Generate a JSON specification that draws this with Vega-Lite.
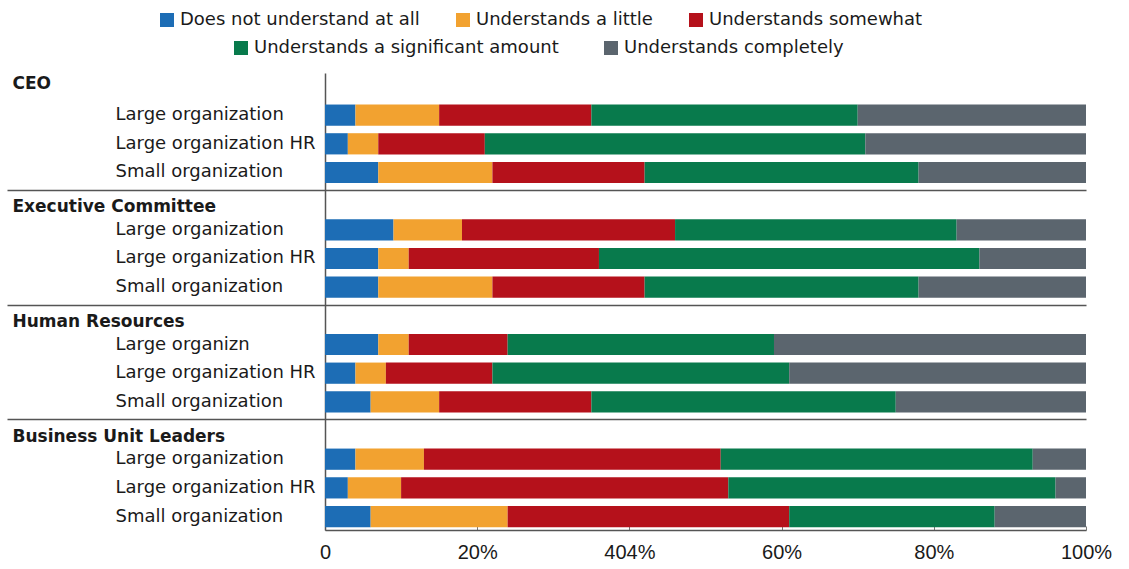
{
  "$schema": "https://vega.github.io/schema/vega-lite/v6.json",
  "autosize": {"type": "none"},
  "width": 761,
  "height": 457,
  "padding": {"left": 325, "top": 73, "right": 43, "bottom": 39},
  "background": "white",
  "config": {"font": "DejaVu Sans", "view": {"stroke": null}},
  "data": {
    "values": [
      {"row": "CEO|Large organization", "Does not understand at all": 4, "Understands a little": 11, "Understands somewhat": 20, "Understands a significant amount": 35, "Understands completely": 30},
      {"row": "CEO|Large organization HR", "Does not understand at all": 3, "Understands a little": 4, "Understands somewhat": 14, "Understands a significant amount": 50, "Understands completely": 29},
      {"row": "CEO|Small organization", "Does not understand at all": 7, "Understands a little": 15, "Understands somewhat": 20, "Understands a significant amount": 36, "Understands completely": 22},
      {"row": "Executive Committee|Large organization", "Does not understand at all": 9, "Understands a little": 9, "Understands somewhat": 28, "Understands a significant amount": 37, "Understands completely": 17},
      {"row": "Executive Committee|Large organization HR", "Does not understand at all": 7, "Understands a little": 4, "Understands somewhat": 25, "Understands a significant amount": 50, "Understands completely": 14},
      {"row": "Executive Committee|Small organization", "Does not understand at all": 7, "Understands a little": 15, "Understands somewhat": 20, "Understands a significant amount": 36, "Understands completely": 22},
      {"row": "Human Resources|Large organizn", "Does not understand at all": 7, "Understands a little": 4, "Understands somewhat": 13, "Understands a significant amount": 35, "Understands completely": 41},
      {"row": "Human Resources|Large organization HR", "Does not understand at all": 4, "Understands a little": 4, "Understands somewhat": 14, "Understands a significant amount": 39, "Understands completely": 39},
      {"row": "Human Resources|Small organization", "Does not understand at all": 6, "Understands a little": 9, "Understands somewhat": 20, "Understands a significant amount": 40, "Understands completely": 25},
      {"row": "Business Unit Leaders|Large organization", "Does not understand at all": 4, "Understands a little": 9, "Understands somewhat": 39, "Understands a significant amount": 41, "Understands completely": 7},
      {"row": "Business Unit Leaders|Large organization HR", "Does not understand at all": 3, "Understands a little": 7, "Understands somewhat": 43, "Understands a significant amount": 43, "Understands completely": 4},
      {"row": "Business Unit Leaders|Small organization", "Does not understand at all": 6, "Understands a little": 18, "Understands somewhat": 37, "Understands a significant amount": 27, "Understands completely": 12}
    ]
  },
  "transform": [
    {"fold": ["Does not understand at all", "Understands a little", "Understands somewhat", "Understands a significant amount", "Understands completely"], "as": ["level", "pct"]},
    {"stack": "pct", "groupby": ["row"], "as": ["x0", "x1"]}
  ],
  "encoding": {
    "y": {
      "field": "row",
      "type": "nominal",
      "scale": {
        "domain": [
          "CEO", "CEO|Large organization", "CEO|Large organization HR", "CEO|Small organization",
          "Executive Committee", "Executive Committee|Large organization", "Executive Committee|Large organization HR", "Executive Committee|Small organization",
          "Human Resources", "Human Resources|Large organizn", "Human Resources|Large organization HR", "Human Resources|Small organization",
          "Business Unit Leaders", "Business Unit Leaders|Large organization", "Business Unit Leaders|Large organization HR", "Business Unit Leaders|Small organization"
        ],
        "paddingInner": 0.26,
        "paddingOuter": 0.1
      },
      "axis": {
        "title": null,
        "domainColor": "#555555",
        "domainWidth": 1.5,
        "bandPosition": 0,
        "grid": true,
        "gridColor": "#555555",
        "gridWidth": 1.5,
        "gridOpacity": {"condition": {"test": "indexof(['Executive Committee','Human Resources','Business Unit Leaders'], datum.value) >= 0", "value": 1}, "value": 0},
        "ticks": true,
        "tickSize": 318,
        "tickColor": "#555555",
        "tickWidth": 1.5,
        "tickOpacity": {"condition": {"test": "indexof(['Executive Committee','Human Resources','Business Unit Leaders'], datum.value) >= 0", "value": 1}, "value": 0},
        "labelExpr": "indexof(datum.value, '|') >= 0 ? split(datum.value, '|')[1] : datum.value",
        "labelAlign": "left",
        "labelBaseline": "middle",
        "labelPadding": {"condition": {"test": "indexof(datum.value, '|') < 0", "value": -5}, "value": -108},
        "labelOffset": {"condition": [{"test": "datum.value === 'CEO'", "value": -2}, {"test": "indexof(datum.value, '|') < 0", "value": 6}], "value": 0},
        "labelFontWeight": {"condition": {"test": "indexof(datum.value, '|') < 0", "value": "bold"}, "value": "normal"},
        "labelFontSize": {"condition": {"test": "indexof(datum.value, '|') < 0", "value": 17}, "value": 18},
        "labelColor": "#1a1a1a",
        "labelLimit": 400,
        "labelOverlap": false
      }
    },
    "x": {
      "field": "x0",
      "type": "quantitative",
      "scale": {"domain": [0, 100], "nice": false},
      "axis": {
        "title": null,
        "values": [0, 20, 40, 60, 80, 100],
        "labelExpr": "datum.value === 0 ? '0' : (datum.value === 40 ? '404%' : datum.value + '%')",
        "labelFlush": false,
        "labelFont": "Liberation Sans",
        "labelFontSize": 20,
        "labelColor": "#1a1a1a",
        "labelPadding": 16,
        "domainColor": "#555555",
        "domainWidth": 1.5,
        "ticks": true,
        "tickSize": -4,
        "tickColor": "#777777",
        "grid": false
      }
    },
    "x2": {"field": "x1"}
  },
  "layer": [
    {
      "transform": [{"filter": {"field": "level", "oneOf": ["Does not understand at all", "Understands a little", "Understands somewhat"]}}],
      "mark": {"type": "bar"},
      "encoding": {
        "color": {
          "field": "level",
          "type": "nominal",
          "scale": {"domain": ["Does not understand at all", "Understands a little", "Understands somewhat"], "range": ["#1d6db5", "#f2a230", "#b5111b"]},
          "legend": {
            "title": null, "orient": "none", "legendX": -167, "legendY": -62,
            "direction": "horizontal", "columns": 3, "padding": 0, "offset": 0,
            "symbolType": "square", "symbolSize": 196, "symbolStrokeWidth": 0,
            "labelFont": "DejaVu Sans", "labelFontSize": 18, "labelColor": "#1a1a1a",
            "labelLimit": 400, "labelOffset": 4, "columnPadding": 34
          }
        }
      }
    },
    {
      "transform": [{"filter": {"field": "level", "oneOf": ["Understands a significant amount", "Understands completely"]}}],
      "mark": {"type": "bar"},
      "encoding": {
        "color": {
          "field": "level",
          "type": "nominal",
          "scale": {"domain": ["Understands a significant amount", "Understands completely"], "range": ["#087a4c", "#5b656e"]},
          "legend": {
            "title": null, "orient": "none", "legendX": -93, "legendY": -34,
            "direction": "horizontal", "columns": 2, "padding": 0, "offset": 0,
            "symbolType": "square", "symbolSize": 196, "symbolStrokeWidth": 0,
            "labelFont": "DejaVu Sans", "labelFontSize": 18, "labelColor": "#1a1a1a",
            "labelLimit": 400, "labelOffset": 4, "columnPadding": 43
          }
        }
      }
    }
  ],
  "resolve": {"scale": {"color": "independent"}, "legend": {"color": "independent"}}
}
